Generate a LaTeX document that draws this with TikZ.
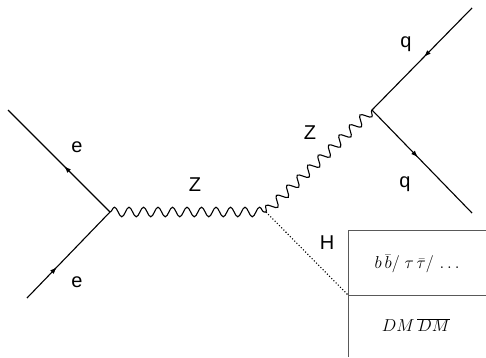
\documentclass[tikz,border=0pt]{standalone}
\usepackage{fontspec}
\setmainfont{Liberation Sans}
\usetikzlibrary{decorations.pathmorphing,decorations.markings,arrows.meta}
\tikzset{
        fermion/.style={line width=1.1pt, postaction={decorate},
                decoration={markings, mark=at position #1 with {\arrow{Latex[length=7pt,width=5pt]}}}},
        boson/.style={line width=1.1pt, decorate,
                decoration={snake, amplitude=4.8pt, segment length=14.5pt}},
        scalar/.style={line width=1.1pt, dotted},
        partlabel/.style={font=\fontsize{20}{24}\selectfont, inner sep=0pt},
        boxline/.style={line width=0.9pt, black!65},
        decaytext/.style={font=\fontsize{17.5}{21}\selectfont, inner sep=0pt}
}

\begin{document}
\begin{tikzpicture}[x=1pt, y=-1pt]
        \useasboundingbox (0,0) rectangle (486,357);
        % vertices and external ends
        \coordinate (v0) at (110,212);
        \coordinate (v1) at (266,212);
        \coordinate (v2) at (372,110);
        \coordinate (ein) at (27,298);
        \coordinate (eout) at (8,110);
        \coordinate (qin) at (472,8);
        \coordinate (qout) at (472,213);
        \coordinate (hend) at (348,295);
        % labels
        \node (le1) [partlabel] at (77,147) {e};
        \node (le2) [partlabel] at (77,282) {e};
        \node (lz1) [partlabel] at (195,185) {Z};
        \node (lz2) [partlabel] at (310,133) {Z};
        \node (lq1) [partlabel] at (406,44) {q};
        \node (lq2) [partlabel] at (405,184) {q};
        \node (lh) [partlabel] at (327,243) {H};
        % decay box
        \coordinate (b0) at (348,230);
        \coordinate (b1) at (486,230);
        \coordinate (b2) at (348,357);
        \coordinate (b3) at (486,295);
        \draw [boxline] (b2) -- (b0) -- (b1);
        \draw [boxline] (hend) -- (b3);
        \node (dec1) [decaytext] at (417,264) {$b\,\bar{b}/\;\tau\,\bar{\tau}/\,\ldots$};
        \node (dec2) [decaytext] at (416,325) {$DM\,\overline{DM}$};
        % lines
        \draw [fermion=0.45] (v0) -- (eout);
        \draw [fermion=0.36] (ein) -- (v0);
        \draw [boson] (v0) -- (v1);
        \draw [boson] (v1) -- (v2);
        \draw [fermion=0.48] (qin) -- (v2);
        \draw [fermion=0.46] (v2) -- (qout);
        \draw [scalar] (v1) -- (hend);
\end{tikzpicture}
\end{document}
